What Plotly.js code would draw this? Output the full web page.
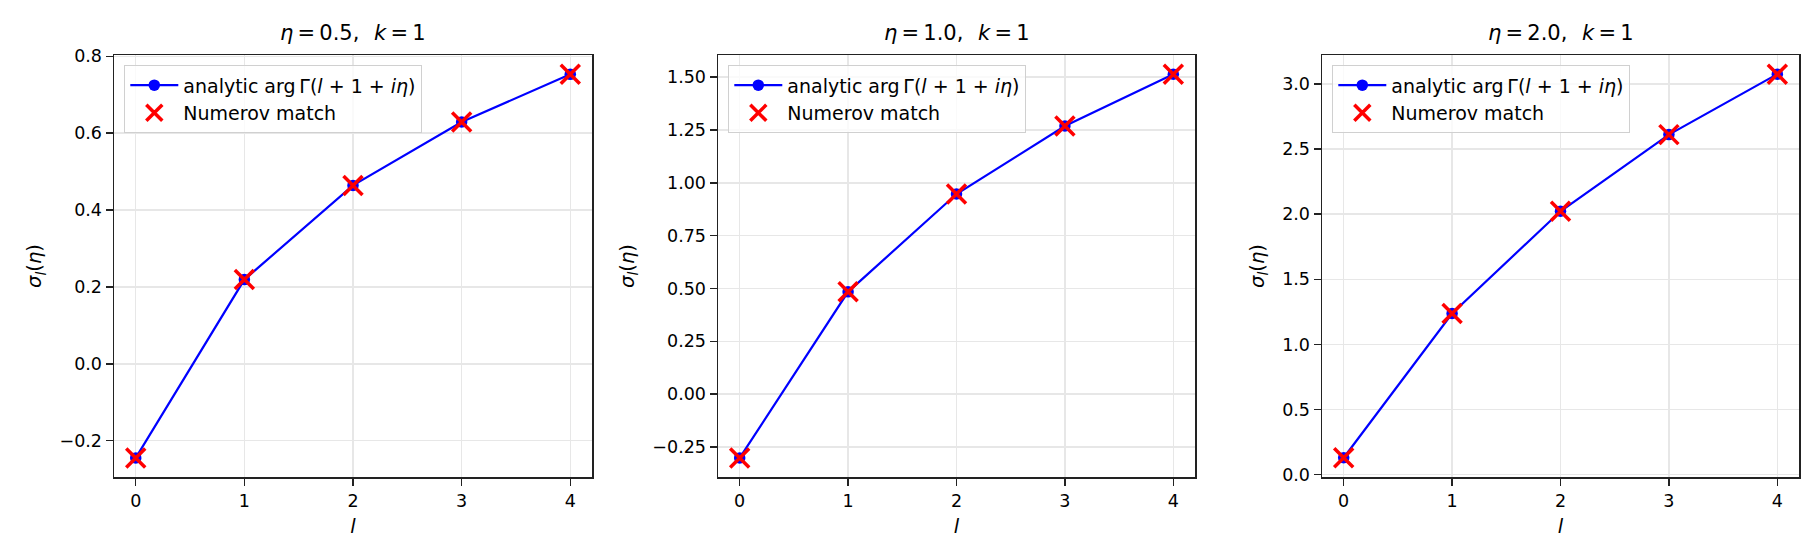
<!DOCTYPE html>
<html>
<head>
<meta charset="utf-8">
<script src="https://cdn.plot.ly/plotly-3.0.1.min.js"></script>
<style>
  body { margin: 0; background: #fff; }
  #chart { width: 1820px; height: 560px; }
</style>
</head>
<body>
<div id="chart"></div>
<script>
// angular momentum l
var ells = [0, 1, 2, 3, 4]
var etaValues = ['0.5', '1.0', '2.0']

// sigma_l(eta), analytic arg Gamma(l+1+i eta)
var analyticEta05 = [-0.245, 0.219, 0.464, 0.629, 0.753]
var analyticEta10 = [-0.302, 0.484, 0.947, 1.269, 1.514]
var analyticEta20 = [0.130, 1.237, 2.022, 2.610, 3.074]

// sigma_l from the Numerov matching
var numerovEta05 = [-0.245, 0.219, 0.464, 0.629, 0.753]
var numerovEta10 = [-0.302, 0.484, 0.947, 1.269, 1.514]
var numerovEta20 = [0.130, 1.237, 2.022, 2.610, 3.074]

var analytic = [analyticEta05, analyticEta10, analyticEta20]
var numerov = [numerovEta05, numerovEta10, numerovEta20]

var W = 1820, H = 560
var FONT = 'DejaVu Sans, sans-serif'

// panel boxes in pixels (left, right), shared top/bottom
var panels = [[114, 592], [718, 1195], [1322, 1799]]
var top_px = 55, bottom_px = 477
var yRanges = [[-0.2946, 0.8033], [-0.3924, 1.605], [-0.0176, 3.221]]
var yDticks = [0.2, 0.25, 0.5]
var yFormats = ['.1f', '.2f', '.1f']

var data = []
var annotations = []
var layout = {
  width: W,
  height: H,
  margin: { l: 0, r: 0, t: 0, b: 0 },
  paper_bgcolor: '#fff',
  plot_bgcolor: '#fff',
  font: { family: FONT, color: '#000', size: 17.5 },
  showlegend: true
}

for (var i = 0; i < 3; i++) {
  var n = i == 0 ? '' : String(i + 1)
  var xa = 'x' + n, ya = 'y' + n
  var lg = 'legend' + n

  data.push({
    x: ells,
    y: analytic[i],
    xaxis: xa, yaxis: ya,
    type: 'scatter',
    mode: 'lines+markers',
    name: 'analytic arg\u2009\u0393(<i>l</i> + 1 + <i>i\u03b7</i>)',
    line: { color: '#0000ff', width: 2.2 },
    marker: { color: '#0000ff', size: 11.5 },
    legend: lg,
    hoverinfo: 'skip'
  })
  data.push({
    x: ells,
    y: numerov[i],
    xaxis: xa, yaxis: ya,
    type: 'scatter',
    mode: 'markers',
    name: 'Numerov match',
    marker: { symbol: 'x-thin', size: 19, color: '#ff0000', line: { color: '#ff0000', width: 3.5 } },
    legend: lg,
    hoverinfo: 'skip'
  })

  var dom = [panels[i][0] / W, panels[i][1] / W]
  var axisCommon = {
    showline: true, mirror: true, linecolor: '#222', linewidth: 1.5,
    ticks: 'outside', ticklen: 7, tickwidth: 1.5, tickcolor: '#222',
    showgrid: true, gridcolor: '#e7e7e7', gridwidth: 1.5,
    zeroline: false,
    tickfont: { family: FONT, size: 17.5, color: '#000' }
  }

  layout['xaxis' + n] = Object.assign({}, axisCommon, {
    domain: dom,
    anchor: ya,
    range: [-0.2, 4.2],
    tickmode: 'array',
    tickvals: ells,
    ticktext: ells.map(String),
    title: { text: '<i>l</i>', font: { family: FONT, size: 19.5 }, standoff: 10 }
  })
  layout['yaxis' + n] = Object.assign({}, axisCommon, {
    domain: [1 - bottom_px / H, 1 - top_px / H],
    anchor: xa,
    range: yRanges[i],
    dtick: yDticks[i],
    tick0: 0,
    tickformat: yFormats[i],
    title: { text: '<i>\u03c3</i><sub><i>l</i></sub>(<i>\u03b7</i>)', font: { family: FONT, size: 19.5 }, standoff: 12 }
  })

  layout[lg] = {
    x: (panels[i][0] + 10) / W,
    y: 1 - (top_px + 10) / H,
    xanchor: 'left', yanchor: 'top',
    xref: 'paper', yref: 'paper',
    bgcolor: 'rgba(255,255,255,0.8)',
    bordercolor: '#d0d0d0',
    borderwidth: 1.3,
    itemwidth: 48,
    font: { family: FONT, size: 19, color: '#000' }
  }

  annotations.push({
    xref: 'paper', yref: 'paper',
    x: (dom[0] + dom[1]) / 2,
    y: 1 - (top_px - 8) / H,
    xanchor: 'center', yanchor: 'bottom',
    showarrow: false,
    text: '<i>\u03b7</i>\u2009=\u2009' + etaValues[i] + ',\u2002\u2009<i>k</i>\u2009=\u20091',
    font: { family: FONT, size: 21, color: '#000' }
  })
}

layout.annotations = annotations

Plotly.newPlot('chart', data, layout, { displayModeBar: false, staticPlot: true })
</script>
</body>
</html>
